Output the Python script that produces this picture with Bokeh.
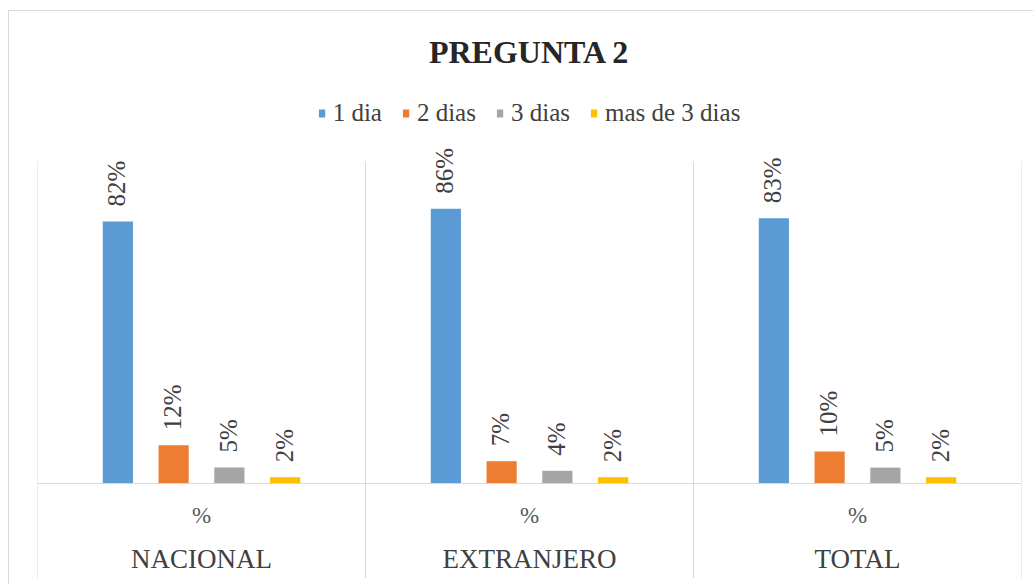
import math

from bokeh.core.properties import value
from bokeh.embed import file_html
from bokeh.models import ColumnDataSource, FactorRange, Legend, LegendItem, Range1d
from bokeh.plotting import figure
from bokeh.resources import INLINE
from bokeh.transform import dodge

# Survey answers, percentage of respondents per answer
groups = ["NACIONAL", "EXTRANJERO", "TOTAL"]
unit = "%"
series = ["1 dia", "2 dias", "3 dias", "mas de 3 dias"]
dia_1 = [82, 86, 83]
dias_2 = [12, 7, 10]
dias_3 = [5, 4, 5]
mas_de_3 = [2, 2, 2]

colors = ["#5B9BD5", "#ED7D31", "#A5A5A5", "#FFC000"]
offsets = [-0.255, -0.085, 0.085, 0.255]
bar_width = 0.092

columns = {"d1": dia_1, "d2": dias_2, "d3": dias_3, "d4": mas_de_3}
keys = ["d1", "d2", "d3", "d4"]

data = {"x": [(g, unit) for g in groups]}
for k, vals in columns.items():
    data[k] = vals
    data[k + "_lbl"] = [f"{v}%" for v in vals]
source = ColumnDataSource(data)

x_range = FactorRange(*data["x"], range_padding=0, group_padding=0, factor_padding=0)
y_min, y_max = -29.7, 125.8
y_range = Range1d(y_min, y_max)

SERIF = "Liberation Serif"

p = figure(
    x_range=x_range,
    y_range=y_range,
    frame_width=984,
    frame_height=497,
    min_border_left=28,
    min_border_right=12,
    min_border_bottom=6,
    min_border_top=70,
    output_backend="svg",
    toolbar_location=None,
    y_axis_location=None,
    title="PREGUNTA 2",
)
p.margin = (10, 0, 0, 8)
p.styles = {"border-left": "1px solid #d9d9d9", "border-top": "1px solid #d9d9d9"}
p.background_fill_color = "white"
p.border_fill_color = "white"
p.outline_line_color = None
p.xgrid.visible = False
p.ygrid.visible = False

p.title.align = "center"
p.title.text_font = SERIF
p.title.text_font_size = "32px"
p.title.text_font_style = "bold"
p.title.text_color = "#262626"
p.title.standoff = 24

# group separators
sep_x = list(range(len(groups) + 1))
p.segment(x0=sep_x, y0=[y_min] * len(sep_x), x1=sep_x, y1=[100.8] * len(sep_x),
          line_color="#d9d9d9", line_width=1)

items = []
for k, name, col, off in zip(keys, series, colors, offsets):
    r = p.vbar(x=dodge("x", off, range=x_range), top=k, width=bar_width,
               source=source, fill_color=col, line_color=None)
    items.append(LegendItem(label=name, renderers=[r]))
    p.text(x=dodge("x", off, range=x_range), y=k, text=k + "_lbl", source=source,
           angle=math.pi / 2, text_align="left", text_baseline="middle",
           x_offset=-1, y_offset=-15, text_font=value(SERIF), text_font_size="25px",
           text_color="#404040")

legend = Legend(items=items, location="top_center", orientation="horizontal",
                border_line_alpha=0, background_fill_alpha=0,
                label_text_font=SERIF, label_text_font_size="25px",
                label_text_color="#404040", glyph_width=8, glyph_height=10,
                label_standoff=7, spacing=20, padding=0, margin=18)
p.add_layout(legend)

ax = p.xaxis[0]
ax.fixed_location = 0
ax.axis_line_color = "#d9d9d9"
ax.major_tick_line_color = None
ax.minor_tick_line_color = None
ax.major_label_standoff = 13
ax.major_label_text_font = SERIF
ax.major_label_text_font_size = "23px"
ax.major_label_text_color = "#595959"
ax.group_text_font = SERIF
ax.group_text_font_size = "27px"
ax.group_text_font_style = "normal"
ax.group_text_color = "#404040"
ax.separator_line_color = None

open("out.html", "w").write(file_html(p, INLINE))
